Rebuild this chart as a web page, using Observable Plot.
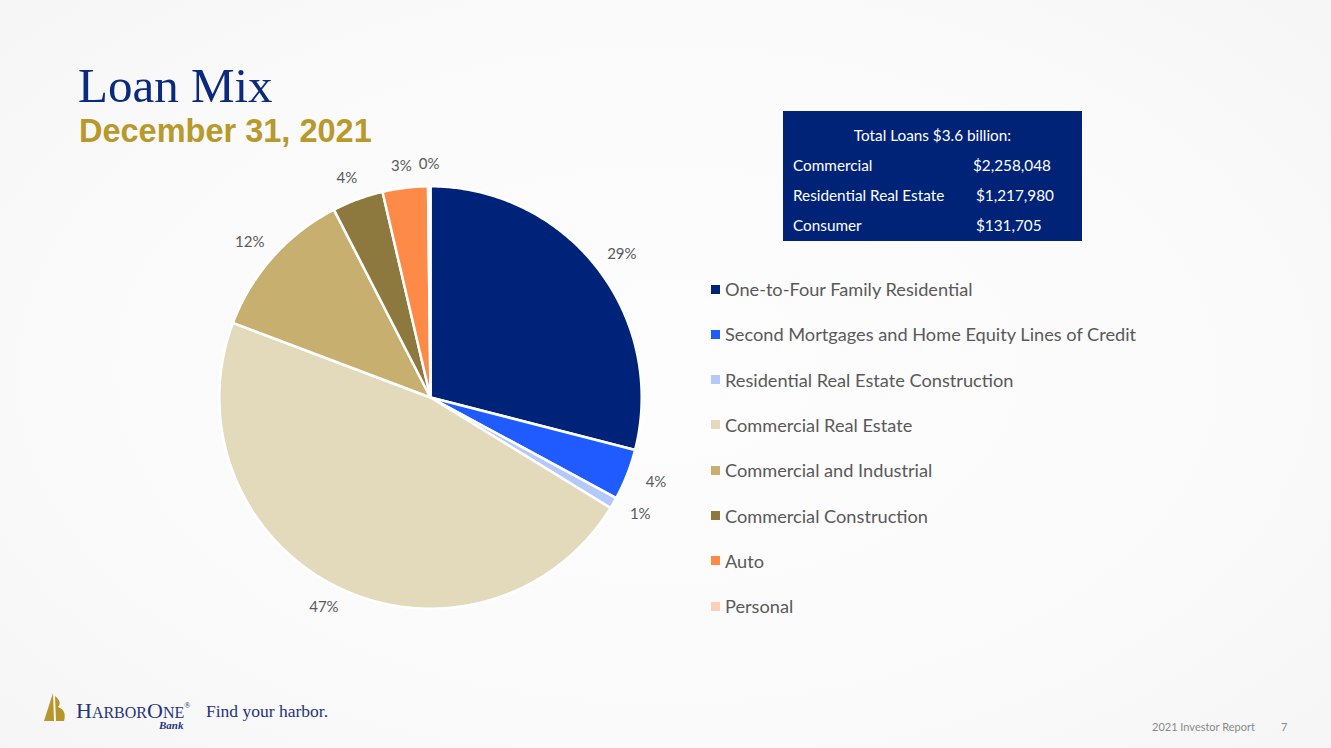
<!DOCTYPE html>
<html>
<head>
<meta charset="utf-8">
<script src="https://cdn.jsdelivr.net/npm/d3@7"></script>
<script src="https://cdn.jsdelivr.net/npm/@observablehq/plot@0.6"></script>
<style>
html, body { margin: 0; padding: 0; }
body {
  width: 1331px; height: 748px; overflow: hidden; position: relative;
  font-family: Lato, "Open Sans", sans-serif;
  background: radial-gradient(ellipse 75% 80% at 50% 50%, #fdfdfd 0%, #fafafa 60%, #f4f4f4 100%);
}
.abs { position: absolute; white-space: nowrap; }
#title { left: 78px; top: 61.3px; font-family: "Liberation Serif", serif; font-size: 49px; line-height: 1; color: #0b2a7c; }
#subtitle { left: 79px; top: 114.5px; font-family: "Liberation Sans", Arial, sans-serif; font-weight: bold; font-size: 32.5px; line-height: 1; color: #b8992b; }
#box { left: 783px; top: 111px; width: 299px; height: 130px; background: #002378; }
.boxtxt { position: absolute; color: #ffffff; font-size: 15.3px; line-height: 20px; height: 20px; white-space: nowrap; }
#pie { position: absolute; left: 166px; top: 133px; }
.legrow { position: absolute; left: 711px; height: 22px; line-height: 22px; font-size: 18.2px; color: #595959; white-space: nowrap; }
.legsw { position: absolute; left: 0; top: 6.5px; width: 9px; height: 9px; }
.legtx { position: absolute; left: 14px; top: 0; }
#footer-r { left: 1152px; top: 720px; font-size: 11px; color: #8a8a8a; line-height: 14px; }
#footer-n { left: 1281px; top: 720px; font-size: 11px; color: #8a8a8a; line-height: 14px; }
#logo { left: 76px; top: 700px; font-family: "Liberation Serif", serif; color: #26337a; line-height: 1; }
#bank { left: 159px; top: 719px; font-family: "Liberation Serif", serif; font-style: italic; font-weight: bold; font-size: 11px; color: #26337a; }
#tag { left: 206px; top: 703px; font-family: "Liberation Serif", serif; font-size: 17.5px; color: #26337a; line-height: 1; }
</style>
</head>
<body>
<script>
// ---- data ----
const categories = [
  "One-to-Four Family Residential",
  "Second Mortgages and Home Equity Lines of Credit",
  "Residential Real Estate Construction",
  "Commercial Real Estate",
  "Commercial and Industrial",
  "Commercial Construction",
  "Auto",
  "Personal"
];
// loan balances ($ thousands), estimated from the slice sizes and the totals box
const values = [1046000, 140980, 31000, 1695000, 422000, 141048, 125000, 6705];
const colors = ["#00237a", "#1f5bff", "#b5c8fb", "#e3d9bb", "#c7b06f", "#8d783e", "#fd8a47", "#fbcfb8"];

const totalLabel = "Total Loans $3.6 billion:";
const summaryLabels = ["Commercial", "Residential Real Estate", "Consumer"];
const summaryValues = ["$2,258,048", "$1,217,980", "$131,705"];

const titleText = "Loan Mix";
const subtitleText = "December 31, 2021";
const footerText = "2021 Investor Report";
const pageNumber = "7";

// ---- static text ----
function addDiv(id, cls, text) {
  const d = document.createElement("div");
  if (id) d.id = id;
  d.className = cls;
  d.textContent = text;
  document.body.appendChild(d);
  return d;
}
addDiv("title", "abs", titleText);
addDiv("subtitle", "abs", subtitleText);

// totals box
const box = addDiv("box", "abs", "");
const t0 = document.createElement("div");
t0.className = "boxtxt";
t0.style.left = "0px"; t0.style.width = "299px"; t0.style.textAlign = "center";
t0.style.top = (134.5 - 111 - 10) + "px";
t0.textContent = totalLabel;
box.appendChild(t0);
const rowY = [164.5, 194.5, 224.5];
const valX = [973, 976, 976];
summaryLabels.forEach((lab, i) => {
  const a = document.createElement("div");
  a.className = "boxtxt";
  a.style.left = (793 - 783) + "px";
  a.style.top = (rowY[i] - 111 - 10) + "px";
  a.textContent = lab;
  box.appendChild(a);
  const b = document.createElement("div");
  b.className = "boxtxt";
  b.style.left = (valX[i] - 783) + "px";
  b.style.top = (rowY[i] - 111 - 10) + "px";
  b.textContent = summaryValues[i];
  box.appendChild(b);
});

// ---- pie via Plot ----
const total = d3.sum(values);
const arcs = d3.pie().sort(null).value(d => d)(values);
const R = 1.0;
const features = arcs.map((a, i) => {
  const ring = [[0, 0]];
  const n = Math.max(2, Math.ceil((a.endAngle - a.startAngle) / (Math.PI / 360)));
  for (let k = 0; k <= n; k++) {
    const t = a.startAngle + (a.endAngle - a.startAngle) * k / n;
    ring.push([R * Math.sin(t), -R * Math.cos(t)]);
  }
  ring.push([0, 0]);
  return {type: "Feature", properties: {category: categories[i]}, geometry: {type: "Polygon", coordinates: [ring]}};
});

const pxUnit = 211.2;
const labels = arcs.map((a, i) => {
  const m = (a.startAngle + a.endAngle) / 2;
  const s = Math.sin(m), c = -Math.cos(m);
  const rr = R + 15 / pxUnit;
  return {
    x: rr * s + (16 / pxUnit) * s,
    y: rr * c + (7 / pxUnit) * c,
    text: d3.format(".0%")(values[i] / total)
  };
});

const H = 1.25;
const frame = {type: "Polygon", coordinates: [[[-H, -H], [H, -H], [H, H], [-H, H], [-H, -H]]]};

const pie = Plot.plot({
  width: 528,
  height: 528,
  margin: 0,
  style: "background: transparent; overflow: visible;",
  projection: {type: "identity", domain: frame, inset: 0},
  color: {domain: categories, range: colors},
  marks: [
    Plot.geo(features, {fill: d => d.properties.category, stroke: "white", strokeWidth: 2.5, strokeLinejoin: "round"}),
    Plot.text(labels, {x: "x", y: "y", text: "text", fill: "#595959", fontSize: 15, fontFamily: "Lato, sans-serif"})
  ]
});
pie.id = "pie";
document.body.appendChild(pie);

// ---- legend ----
const legY = [289, 334.3, 379.6, 424.9, 470.2, 515.5, 560.8, 606.1];
categories.forEach((cat, i) => {
  const row = document.createElement("div");
  row.className = "legrow";
  row.style.top = (legY[i] - 11) + "px";
  const sw = document.createElement("div");
  sw.className = "legsw";
  sw.style.background = colors[i];
  const tx = document.createElement("div");
  tx.className = "legtx";
  tx.textContent = cat;
  row.appendChild(sw); row.appendChild(tx);
  document.body.appendChild(row);
});

// ---- footer ----
addDiv("footer-r", "abs", footerText);
addDiv("footer-n", "abs", pageNumber);

const logo = document.createElement("div");
logo.id = "logo"; logo.className = "abs";
logo.innerHTML = '<span style="font-size:22px">H</span><span style="font-size:16px">ARBOR</span><span style="font-size:22px">O</span><span style="font-size:16px">NE</span><span style="font-size:8px;vertical-align:10px">®</span>';
document.body.appendChild(logo);
addDiv("bank", "abs", "Bank");
addDiv("tag", "abs", "Find your harbor.");

const ns = "http://www.w3.org/2000/svg";
const sail = document.createElementNS(ns, "svg");
sail.setAttribute("width", "26"); sail.setAttribute("height", "32");
sail.style.position = "absolute"; sail.style.left = "42px"; sail.style.top = "692px";
const p1 = document.createElementNS(ns, "path");
p1.setAttribute("d", "M2 29 L11 1 L12 29 Z");
p1.setAttribute("fill", "#b5962b");
const p2 = document.createElementNS(ns, "path");
p2.setAttribute("d", "M13 4 C18 8 19 12 16 15 C22 17 24 22 22 29 L14 29 Z");
p2.setAttribute("fill", "#b5962b");
sail.appendChild(p1); sail.appendChild(p2);
document.body.appendChild(sail);
</script>
</body>
</html>
